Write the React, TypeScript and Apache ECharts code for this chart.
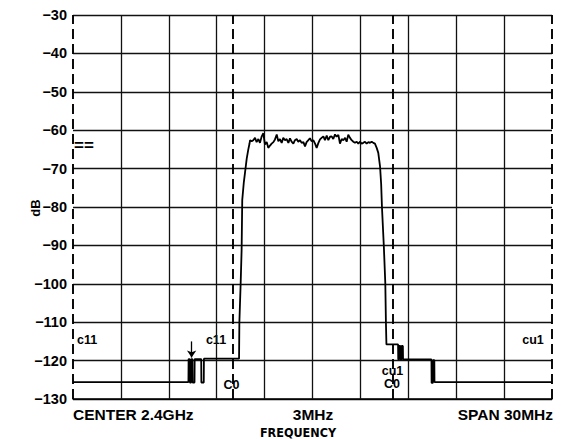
import React, { useEffect, useRef } from "react";
import * as echarts from "echarts";

// Spectrum trace: frequency offset from centre (MHz) and level (dB)
const freqMHz = [
  -15, -7.77, -7.76, -7.69, -7.68, -7.6, -7.59, -7.52, -7.51, -7.39, -7.38, -6.97, -6.96, -6.81, -6.8,
  -4.6, -4.58, -4.5, -4.44, -4.4, -4.3, -4.23, -4.12, -4.02, -3.95,
  -3.91, -3.81, -3.71, -3.6, -3.5, -3.39, -3.29, -3.18, -3.08, -2.98, -2.87, -2.77, -2.66, -2.56, -2.45,
  -2.35, -2.24, -2.14, -2.04, -1.93, -1.83, -1.72, -1.62, -1.51, -1.41, -1.31, -1.2, -1.1, -0.99, -0.89,
  -0.78, -0.68, -0.57, -0.47, -0.37, -0.26, -0.16, -0.05, 0.05, 0.16, 0.26, 0.37, 0.47, 0.57, 0.68,
  0.78, 0.89, 0.99, 1.1, 1.2, 1.3, 1.41, 1.51, 1.62, 1.72, 1.83, 1.93, 2.04, 2.14, 2.24, 2.35, 2.45,
  2.56, 2.66, 2.77, 2.87, 2.98, 3.08, 3.18, 3.29, 3.39, 3.5, 3.6, 3.71, 3.81, 3.91,
  4.02, 4.12, 4.23, 4.3, 4.35, 4.47, 4.56, 4.6, 4.63, 5.36, 5.37, 5.42, 5.43, 5.5, 5.51, 5.57, 5.58,
  5.66, 5.67, 7.45, 7.46, 7.54, 7.55, 7.63, 7.64, 15,
];
const levelDB = [
  -125.6, -125.6, -119.6, -119.6, -125.7, -125.7, -119.6, -119.6, -125.7, -125.7, -119.6, -119.6, -125.7, -125.7, -119.5,
  -119.5, -110.0, -100.0, -91.3, -78.2, -73.5, -71.2, -67.4, -65.0, -63.6,
  -62.6, -62.9, -62.6, -62.0, -63.1, -62.3, -63.3, -61.6, -60.8, -63.7, -63.1, -64.6, -64.0, -63.5, -63.1,
  -62.4, -61.1, -62.9, -62.3, -63.3, -62.0, -62.6, -62.3, -63.3, -62.1, -63.0, -63.5, -62.6, -62.3, -63.0,
  -62.6, -63.3, -63.1, -64.2, -63.1, -62.6, -62.1, -62.9, -62.6, -63.5, -64.6, -63.3, -62.4, -62.0, -61.6,
  -62.6, -61.4, -62.6, -61.7, -61.6, -62.3, -61.1, -61.7, -61.2, -63.5, -62.3, -62.6, -62.0, -63.0, -61.2, -62.0, -62.6,
  -63.0, -63.3, -63.0, -63.5, -63.0, -63.5, -63.3, -63.0, -63.5, -63.1, -63.3, -63.0, -63.3, -63.5,
  -64.6, -65.9, -69.4, -74.0, -80.0, -90.4, -99.9, -110.3, -115.8, -115.8, -119.7, -119.7, -116.2, -116.2, -119.7, -119.7, -116.2,
  -116.2, -119.7, -119.7, -125.8, -125.8, -119.9, -119.9, -125.6, -125.6,
];

const xMin = -15;
const xMax = 15;
const xStep = 3;
const yMin = -130;
const yMax = -30;
const yStep = 10;
const solidGridX = [-12, -9, -6, -3, 0, 3, 6, 9, 12];
const dashedGridX = [-15, -5, 5, 15];
const arrowX = -7.57;
const arrowFrom = -115.0;
const arrowTo = -119.2;

const xLabels = ["CENTER 2.4GHz", "3MHz", "SPAN 30MHz"];
const xTitle = "FREQUENCY";
const yTitle = "dB";

const FONT = "'Liberation Sans', Arial, Helvetica, sans-serif";
const NARROW = "'Liberation Sans Narrow', 'Arial Narrow', 'DejaVu Sans Condensed', sans-serif";

export default function App() {
  const ref = useRef<HTMLDivElement>(null);
  useEffect(() => {
    document.body.style.margin = "0";
    const chart = echarts.init(ref.current!, null, { renderer: "svg" });
    const markData: any[] = [];
    solidGridX.forEach((v) =>
      markData.push({ xAxis: v, lineStyle: { color: "#111", width: 1.3, type: "solid" } })
    );
    dashedGridX.forEach((v) =>
      markData.push({ xAxis: v, lineStyle: { color: "#000", width: 1.9, type: [10, 5] } })
    );
    markData.push([
      { coord: [arrowX, arrowFrom], symbol: "none", lineStyle: { type: "solid", width: 1.3, color: "#000" } },
      { coord: [arrowX, arrowTo], symbol: "arrow", symbolSize: [7, 7] },
    ]);
    const text = (t: string, x: number, y: number, size: number, align: string, family = FONT) => ({
      type: "text",
      x,
      y,
      silent: true,
      style: {
        text: t,
        fill: "#000",
        font: `bold ${size}px ${family}`,
        align,
        verticalAlign: "middle",
      },
    });
    chart.setOption({
      animation: false,
      backgroundColor: "#fff",
      grid: { left: 73, right: 12, top: 15, bottom: 40 },
      xAxis: {
        type: "value",
        min: xMin,
        max: xMax,
        interval: xStep,
        axisLine: { show: true, lineStyle: { color: "#000", width: 1.5 } },
        axisTick: { show: false },
        axisLabel: { show: false },
        splitLine: { show: false },
      },
      yAxis: {
        type: "value",
        min: yMin,
        max: yMax,
        interval: yStep,
        axisLine: { show: false },
        axisTick: { show: false },
        axisLabel: {
          color: "#000",
          fontWeight: "bold",
          fontSize: 14.5,
          fontFamily: FONT,
          margin: 6,
          formatter: (v: number) => String(v).replace("-", "\u2212"),
        },
        splitLine: { show: true, lineStyle: { color: "#111", width: 1.3 } },
      },
      series: [
        {
          type: "line",
          clip: false,
          data: freqMHz.map((f, i) => [f, levelDB[i]]),
          showSymbol: false,
          symbol: "none",
          lineStyle: { color: "#000", width: 1.8 },
          z: 5,
          markLine: {
            silent: true,
            symbol: "none",
            label: { show: false },
            animation: false,
            data: markData,
            lineStyle: { color: "#000" },
            itemStyle: { color: "#000" },
          },
        },
      ],
      graphic: [
        text(xLabels[0], 73, 414, 15.5, "left"),
        text(xLabels[1], 313, 414, 15.5, "center"),
        text(xLabels[2], 553, 414, 15.5, "right"),
        text(xTitle, 298, 432, 12.5, "center", NARROW),
        {
          type: "text",
          x: 35,
          y: 208,
          rotation: Math.PI / 2,
          silent: true,
          style: {
            text: yTitle,
            fill: "#000",
            font: `bold 13px ${FONT}`,
            align: "center",
            verticalAlign: "middle",
          },
        },
        text("==", 74, 145, 17, "left"),
        text("c11", 77, 340, 12.5, "left"),
        text("c11", 216, 340, 12.5, "center"),
        text("C0", 231.5, 385, 12.5, "center"),
        text("cu1", 392.5, 371, 12.5, "center"),
        text("C0", 392, 384, 12.5, "center"),
        text("cu1", 533, 340, 12.5, "center"),
      ],
    });
    return () => chart.dispose();
  }, []);
  return <div ref={ref} style={{ width: 564, height: 439 }} />;
}
